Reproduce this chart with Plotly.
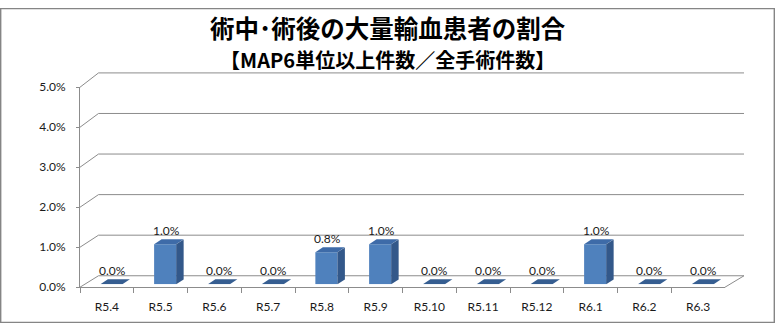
import plotly.graph_objects as go

# ---------------- data ----------------
categories = ["R5.4", "R5.5", "R5.6", "R5.7", "R5.8", "R5.9",
              "R5.10", "R5.11", "R5.12", "R6.1", "R6.2", "R6.3"]
values = [0.000, 0.010, 0.000, 0.000, 0.008, 0.010,
          0.000, 0.000, 0.000, 0.010, 0.000, 0.000]
tick_vals = [0.00, 0.01, 0.02, 0.03, 0.04, 0.05]
title_text = "術中･術後の大量輸血患者の割合"
subtitle_text = "【MAP6単位以上件数／全手術件数】"

# ---------------- geometry (pixels) ----------------
W, H = 775, 330
YMAX = 0.05
FRONT_L, FRONT_R, FRONT_BOT, FRONT_TOP = 80, 725, 292.5, 83
BACK_L, BACK_R, BACK_BOT, BACK_TOP = 98.5, 744, 280.5, 68
PLANE_DX, PLANE_DY = 4.5, 3.0          # bar front plane offset from front
BAR_W = 0.41                            # fraction of category
DEPTH_DX, DEPTH_DY = 7.5, 5.0           # bar depth in pixels

FRONT_COLOR = "#4F81BD"
TOP_COLOR = "#3E6BA8"
TOP_ZERO_COLOR = "#365E91"
SIDE_COLOR = "#33588A"
GRID_COLOR = "#8C8C8C"
FONT = "Lato, 'Liberation Sans', sans-serif"
CJK = "'Noto Sans CJK JP', sans-serif"


def xdom(l, r):
    return [l / W, r / W]


def ydom(bot, top):
    return [1 - bot / H, 1 - top / H]


front_x = xdom(FRONT_L, FRONT_R)
front_y = ydom(FRONT_BOT, FRONT_TOP)
back_x = xdom(BACK_L, BACK_R)
back_y = ydom(BACK_BOT, BACK_TOP)
plane_x = xdom(FRONT_L + PLANE_DX, FRONT_R + PLANE_DX)
plane_bot = FRONT_BOT - PLANE_DY
plane_top = FRONT_TOP - PLANE_DY - 1.0
plane_y = ydom(plane_bot, plane_top)
px_per_unit = (plane_bot - plane_top) / YMAX


def yp(dom, v):
    return dom[0] + v / YMAX * (dom[1] - dom[0])


fig = go.Figure()

# front plane (axis with labels) - invisible helper trace sets categories
fig.add_trace(go.Scatter(x=categories, y=values, mode="markers",
                         marker=dict(opacity=0), hoverinfo="skip",
                         showlegend=False, xaxis="x", yaxis="y"))
# bar front faces
fig.add_trace(go.Bar(x=categories, y=values, width=BAR_W,
                     marker=dict(color=FRONT_COLOR, line=dict(width=0)),
                     hoverinfo="skip", showlegend=False,
                     xaxis="x3", yaxis="y3"))

shapes = []
# back wall gridlines
for v in tick_vals:
    shapes.append(dict(type="line", xref="paper", yref="paper",
                       x0=back_x[0], x1=back_x[1],
                       y0=yp(back_y, v), y1=yp(back_y, v),
                       line=dict(color=GRID_COLOR, width=1), layer="below"))
    # side-wall diagonals
    shapes.append(dict(type="line", xref="paper", yref="paper",
                       x0=front_x[0], x1=back_x[0],
                       y0=yp(front_y, v), y1=yp(back_y, v),
                       line=dict(color=GRID_COLOR, width=1), layer="below"))
# floor right diagonal
shapes.append(dict(type="line", xref="paper", yref="paper",
                   x0=front_x[1], x1=back_x[1],
                   y0=yp(front_y, 0), y1=yp(back_y, 0),
                   line=dict(color=GRID_COLOR, width=1), layer="below"))

hw = BAR_W / 2 * (FRONT_R - FRONT_L) / len(categories)
d_units = DEPTH_DY / px_per_unit
annotations = []
for i, v in enumerate(values):
    # top face
    shapes.append(dict(type="path", xref="x3", yref="y3",
                       xsizemode="pixel", ysizemode="pixel",
                       xanchor=i, yanchor=v,
                       path=f"M {-hw},0 L {hw},0 L {hw + DEPTH_DX},{DEPTH_DY} "
                            f"L {-hw + DEPTH_DX},{DEPTH_DY} Z",
                       fillcolor=TOP_COLOR if v > 0 else TOP_ZERO_COLOR,
                       line=dict(width=0)))
    # side face
    if v > 0:
        shapes.append(dict(type="path", xref="x3", yref="y3",
                           xsizemode="pixel", xanchor=i,
                           path=f"M {hw},0 L {hw + DEPTH_DX},{d_units} "
                                f"L {hw + DEPTH_DX},{v + d_units} L {hw},{v} Z",
                           fillcolor=SIDE_COLOR, line=dict(width=0)))
    annotations.append(dict(xref="x3", yref="y3", x=i, y=v,
                            text=f"{v * 100:.1f}%", showarrow=False,
                            yanchor="middle", yshift=DEPTH_DY + 8.5,
                            xshift=1,
                            font=dict(family=FONT, size=12, color="#1a1a1a")))

# chart border
shapes.append(dict(type="rect", xref="paper", yref="paper",
                   x0=0.7 / W, x1=1 - 0.7 / W, y0=0.7 / H, y1=1 - 0.7 / H,
                   line=dict(color="#858585", width=1.4), layer="above"))

# title + subtitle as one two-line text block
annotations.append(dict(
    xref="paper", yref="paper", x=387.5 / W, y=1 - 36 / H,
    text=(f"<span style='font-size:24.5px'>{title_text}</span><br>"
          f"<span style='font-size:20px'>{subtitle_text}</span>"),
    showarrow=False, yanchor="middle", align="center",
    font=dict(family=CJK, size=22.7, color="#000000", weight="bold")))

fig.update_layout(
    width=W, height=H,
    margin=dict(l=0, r=0, t=0, b=0),
    paper_bgcolor="white", plot_bgcolor="rgba(0,0,0,0)",
    showlegend=False,
    xaxis=dict(domain=front_x, type="category", range=[-0.5, len(categories) - 0.5],
               tickson="boundaries", ticks="outside", ticklen=5,
               tickcolor=GRID_COLOR, showline=True, linecolor=GRID_COLOR,
               linewidth=1, showgrid=False, zeroline=False,
               tickfont=dict(family=FONT, size=12, color="#1a1a1a"),
               ticklabelstandoff=8, anchor="y", fixedrange=True),
    yaxis=dict(domain=front_y, range=[0, YMAX], tickvals=tick_vals,
               tickformat=".1%", ticks="outside", ticklen=3,
               tickcolor=GRID_COLOR, showline=True, linecolor=GRID_COLOR,
               linewidth=1, showgrid=False, zeroline=False,
               tickfont=dict(family=FONT, size=12, color="#1a1a1a"),
               ticklabelstandoff=8, anchor="x", fixedrange=True),
    xaxis2=dict(domain=back_x, visible=False, anchor="y2",
                range=[-0.5, len(categories) - 0.5]),
    yaxis2=dict(domain=back_y, visible=False, anchor="x2", range=[0, YMAX]),
    xaxis3=dict(domain=plane_x, visible=False, anchor="y3", type="category",
                range=[-0.5, len(categories) - 0.5]),
    yaxis3=dict(domain=plane_y, visible=False, anchor="x3", range=[0, YMAX]),
    shapes=shapes,
    annotations=annotations,
)

fig.write_html("out.html")
